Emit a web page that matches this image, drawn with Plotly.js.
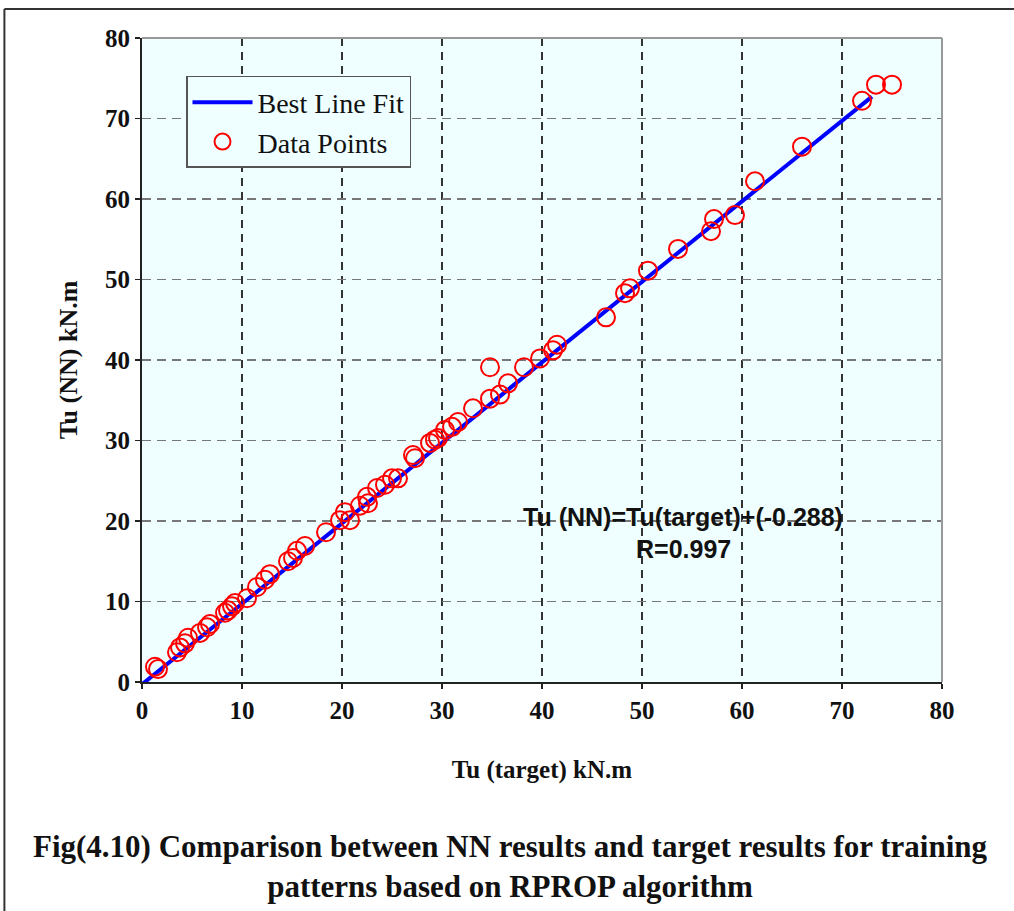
<!DOCTYPE html>
<html>
<head>
<meta charset="utf-8">
<script src="https://cdn.plot.ly/plotly-3.0.1.min.js"></script>
<style>
  html, body { margin: 0; padding: 0; background: #fff; }
  #chart { width: 1014px; height: 911px; }
</style>
</head>
<body>
<div id="chart"></div>
<script>
// Training patterns: target torque vs network output (kN.m)
const targetTu = [1.3, 1.6, 3.5, 3.8, 4.3, 4.6, 5.8, 6.5, 6.8, 8.3, 8.6, 9.0, 9.3,
  10.5, 11.5, 12.3, 12.8, 14.6, 15.1, 15.5, 16.3, 18.4, 19.8, 20.3, 20.8,
  21.8, 22.5, 22.6, 23.5, 24.3, 25.0, 25.6, 27.1, 27.3, 28.8, 29.3, 29.6,
  30.3, 31.0, 31.6, 33.1, 34.8, 35.8, 36.6, 34.8, 38.2, 39.8, 41.1, 41.5,
  46.4, 48.3, 48.8, 50.6, 53.6, 56.9, 57.2, 59.3, 61.3, 66.0, 72.0, 73.4, 75.0];
const nnTu = [1.9, 1.6, 3.7, 4.3, 4.8, 5.5, 6.1, 6.8, 7.2, 8.6, 8.9, 9.4, 9.8,
  10.4, 11.8, 12.7, 13.4, 15.0, 15.4, 16.3, 16.9, 18.6, 20.1, 21.1, 20.1,
  21.9, 23.0, 22.2, 24.1, 24.5, 25.3, 25.3, 28.2, 27.8, 29.7, 30.1, 30.3,
  31.3, 31.7, 32.3, 34.0, 35.2, 35.7, 37.1, 39.1, 39.1, 40.2, 41.2, 41.9,
  45.3, 48.3, 48.9, 51.1, 53.8, 56.0, 57.5, 58.0, 62.2, 66.5, 72.2, 74.2, 74.2];

// Fitted line: Tu(NN) = Tu(target) + intercept
const slope = 1.0;
const intercept = -0.288;
const rValue = 0.997;
const fitX = [0, 73];
const fitY = fitX.map(x => slope * x + intercept);

const xTicks = [0, 10, 20, 30, 40, 50, 60, 70, 80];
const yTicks = [0, 10, 20, 30, 40, 50, 60, 70, 80];

const serif = 'Liberation Serif, Times New Roman, serif';
const sans = 'Liberation Sans, Arial, sans-serif';

const traces = [
  {
    x: fitX, y: fitY, mode: 'lines', name: 'Best Line Fit',
    line: { color: '#0000FF', width: 4 }
  },
  {
    x: targetTu, y: nnTu, mode: 'markers', name: 'Data Points',
    marker: { symbol: 'circle-open', size: 18, color: '#FF0000', line: { width: 2, color: '#FF0000' } }
  }
];

const axisCommon = {
  range: [0, 80], showline: true, linecolor: '#222', linewidth: 2,
  ticks: 'outside', ticklen: 5, tickwidth: 1.5, tickcolor: '#222',
  zeroline: false, fixedrange: true, automargin: false,
  tickfont: { family: serif, size: 25, color: '#111', weight: 'bold' }
};

const layout = {
  width: 1014, height: 911,
  margin: { l: 142, r: 72, t: 38, b: 229 },
  paper_bgcolor: '#FFFFFF',
  plot_bgcolor: '#EFFFFF',
  showlegend: true,
  legend: {
    x: 0.055, y: 0.941, xanchor: 'left', yanchor: 'top',
    bgcolor: '#EFFFFF', bordercolor: '#555', borderwidth: 1.5,
    font: { family: serif, size: 28, color: '#111' },
    itemwidth: 60, tracegroupgap: 4
  },
  xaxis: Object.assign({}, axisCommon, {
    tickvals: xTicks, ticktext: xTicks.map(String),
    showgrid: true, gridcolor: '#333', gridwidth: 1.3, griddash: '8px,6px',
    title: { text: '<b>Tu (target) kN.m</b>', font: { family: serif, size: 25, color: '#111' }, standoff: 37 }
  }),
  yaxis: Object.assign({}, axisCommon, {
    tickvals: yTicks, ticktext: yTicks.map(String),
    showgrid: true, gridcolor: '#777', gridwidth: 1.5, griddash: '9px,6px',
    title: { text: '<b>Tu (NN) kN.m</b>', font: { family: serif, size: 26, color: '#111' }, standoff: 20 }
  }),
  shapes: [
    // grey frame on top and right of the plot area
    { type: 'line', xref: 'paper', yref: 'paper', x0: 0, x1: 1, y0: 1, y1: 1, line: { color: '#999', width: 2 }, layer: 'above' },
    { type: 'line', xref: 'paper', yref: 'paper', x0: 1, x1: 1, y0: 0, y1: 1, line: { color: '#999', width: 2 }, layer: 'above' },
    // outer figure frame
    { type: 'line', xref: 'paper', yref: 'paper', x0: -0.172, x1: 1.2, y0: 1.045, y1: 1.045, line: { color: '#333', width: 2 } },
    { type: 'line', xref: 'paper', yref: 'paper', x0: -0.172, x1: -0.172, y0: 1.045, y1: -0.5, line: { color: '#333', width: 2 } }
  ],
  annotations: [
    {
      xref: 'x', yref: 'y', x: 54.1, y: 20.5, showarrow: false,
      text: '<b>Tu (NN)=Tu(target)+(' + intercept + ')</b>',
      font: { family: sans, size: 25, color: '#111' }
    },
    {
      xref: 'x', yref: 'y', x: 54.1, y: 16.5, showarrow: false,
      text: '<b>R=' + rValue + '</b>',
      font: { family: sans, size: 25, color: '#111' }
    },
    {
      xref: 'paper', yref: 'paper', x: 0.461, y: -0.286, showarrow: false,
      xanchor: 'center', yanchor: 'middle', align: 'center',
      text: '<b>Fig(4.10) Comparison between NN results and target results for training<br>patterns based on RPROP algorithm</b>',
      font: { family: serif, size: 31, color: '#111' }
    }
  ]
};

Plotly.newPlot('chart', traces, layout, { displayModeBar: false, staticPlot: true });
</script>
</body>
</html>
